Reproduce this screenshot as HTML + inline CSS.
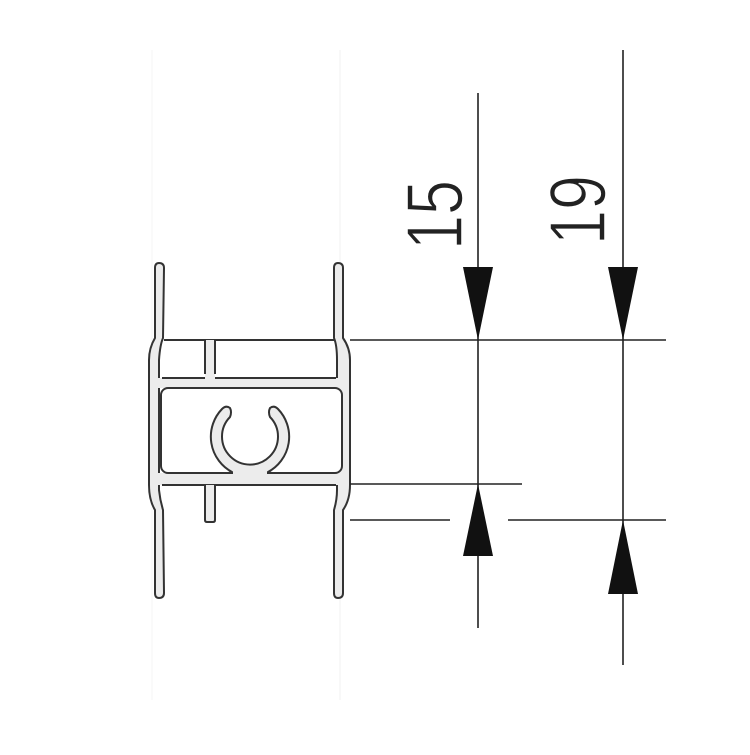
<!DOCTYPE html>
<html><head><style>html,body{margin:0;padding:0;background:#fff}</style></head>
<body>
<svg width="750" height="750" viewBox="0 0 750 750" xmlns="http://www.w3.org/2000/svg">
<rect width="750" height="750" fill="#fff"/>
<line x1="340" y1="50" x2="340" y2="700" stroke="#f2f2f2" stroke-width="1"/>
<line x1="152" y1="50" x2="152" y2="700" stroke="#f6f6f6" stroke-width="1"/>
<g stroke="#333" stroke-width="2" fill="#ececec" stroke-linejoin="round">
  <path d="M155,268 Q155,263 159,263 Q164,263 164,268 L163,338 Q160,345 159,360 L159,490 Q160,500 163,510 L164,593 Q164,598 159,598 Q155,598 155,593 L155,510 Q149,500 149,485 L149,360 Q149,348 155,338 Z"/>
  <path d="M334,268 Q334,263 338,263 Q343,263 343,268 L343,338 Q350,348 350,360 L350,485 Q350,500 343,510 L343,593 Q343,598 338,598 Q334,598 334,593 L334,510 Q337,500 337,490 L337,360 Q337,345 334,338 Z"/>
  <rect x="158" y="378" width="181" height="10" stroke="none"/>
  <rect x="158" y="473" width="181" height="12" stroke="none"/>
  <line x1="162" y1="378" x2="336" y2="378"/>
  <line x1="162" y1="485" x2="336" y2="485"/>
  <rect x="161" y="388" width="181" height="85" rx="7" fill="#fff"/>
  <line x1="164" y1="340" x2="334" y2="340"/>
  <rect x="205" y="340" width="10" height="39" stroke="none"/>
  <line x1="205" y1="340" x2="205" y2="374"/>
  <line x1="215" y1="340" x2="215" y2="374"/>
  <path d="M205,485 L205,520 Q205,522 207,522 L213,522 Q215,522 215,520 L215,485" />
  <path d="M222,409 A40,40 0 0 0 232,472 Q230,473 226,473 L274,473 Q270,473 268,472 A40,40 0 0 0 278,409 Q274,405 270,408 Q268,412 270,417 A28,28 0 1 1 230,417 Q232,412 230,408 Q226,405 222,409 Z"/>
  <rect x="233" y="470" width="34" height="5" stroke="none"/>
</g>
<g stroke="#222" stroke-width="1.6" fill="none">
  <line x1="350" y1="340" x2="666" y2="340"/>
  <line x1="350" y1="484" x2="522" y2="484"/>
  <line x1="350" y1="520" x2="450" y2="520"/>
  <line x1="508" y1="520" x2="666" y2="520"/>
  <line x1="478" y1="93" x2="478" y2="628"/>
  <line x1="623" y1="50" x2="623" y2="665"/>
</g>
<g fill="#111">
  <polygon points="463,267 493,267 478,340"/>
  <polygon points="463,556 493,556 478,484"/>
  <polygon points="608,267 638,267 623,340"/>
  <polygon points="608,594 638,594 623,520"/>
</g>
<g font-family="Liberation Sans, sans-serif" font-size="80" fill="#222" stroke="#fff" stroke-width="1.5">
  <text transform="translate(462,250) rotate(-90)" textLength="70" lengthAdjust="spacingAndGlyphs">15</text>
  <text transform="translate(605,245) rotate(-90)" textLength="70" lengthAdjust="spacingAndGlyphs">19</text>
</g>
</svg>
</body></html>
